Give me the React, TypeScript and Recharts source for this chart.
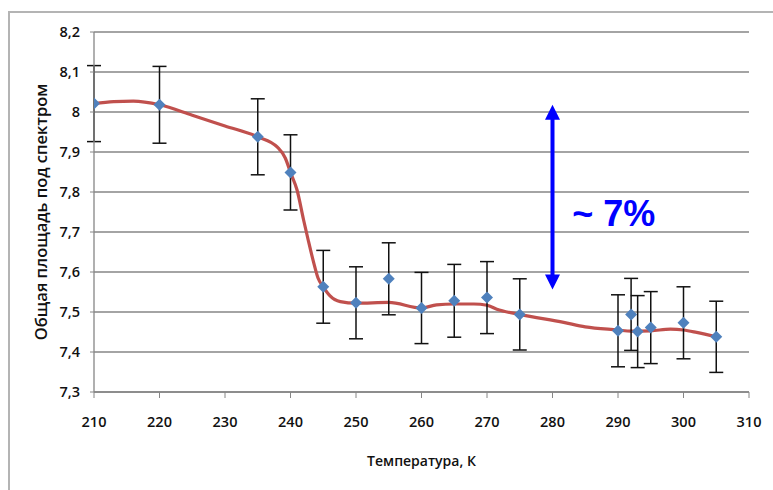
import {
  ComposedChart,
  Line,
  Scatter,
  ErrorBar,
  XAxis,
  YAxis,
  CartesianGrid,
  ReferenceLine,
  ReferenceDot,
} from "recharts";

// measured points (temperature, K / total area)
const TEMPS = [210, 220, 235, 240, 245, 250, 255, 260, 265, 270, 275, 290, 292, 293, 295, 300, 305];
const AREAS = [8.021, 8.018, 7.938, 7.849, 7.563, 7.523, 7.583, 7.51, 7.528, 7.536, 7.494, 7.453, 7.494, 7.451, 7.461, 7.473, 7.438];
const ERRORS = [0.095, 0.096, 0.095, 0.094, 0.091, 0.09, 0.09, 0.089, 0.091, 0.09, 0.089, 0.09, 0.09, 0.09, 0.09, 0.09, 0.089];

// smoothed red curve
const CURVE_X = [210, 213, 216, 220, 225, 230, 235, 238, 239.2, 240, 241, 242, 242.7, 243.5, 244.2, 245, 246, 247.6, 250, 255, 260, 262.3, 265, 268, 270, 271.5, 275, 281.7, 285, 290, 292, 295, 298, 300, 302, 305];
const CURVE_Y = [8.021, 8.026, 8.027, 8.018, 7.992, 7.965, 7.938, 7.912, 7.885, 7.849, 7.805, 7.73, 7.68, 7.626, 7.585, 7.563, 7.541, 7.526, 7.522, 7.524, 7.51, 7.518, 7.52, 7.52, 7.517, 7.507, 7.494, 7.474, 7.463, 7.455, 7.452, 7.453, 7.457, 7.455, 7.449, 7.438];

const X_TICKS = [210, 220, 230, 240, 250, 260, 270, 280, 290, 300, 310];
const Y_TICKS = [7.3, 7.4, 7.5, 7.6, 7.7, 7.8, 7.9, 8.0, 8.1, 8.2];

// the "~ 7%" span marker
const SPAN_X = 280;
const SPAN_TOP = 8.018;
const SPAN_BOTTOM = 7.556;
const SPAN_TEXT = "~ 7%";
const SPAN_TEXT_X = 283;
const SPAN_TEXT_Y = 7.716;

const Y_TITLE = "Общая площадь под спектром";
const X_TITLE = "Температура, К";

const points = TEMPS.map((x, i) => ({ x, y: AREAS[i], err: ERRORS[i] }));
const curve = CURVE_X.map((x, i) => ({ x, y: CURVE_Y[i] }));

const FONT = "'Open Sans', sans-serif";
const AXIS_GRAY = "#868686";
const BLUE = "#0000ff";

const Diamond = (props: any) => {
  const { cx, cy } = props;
  const r = 6;
  return (
    <polygon
      points={`${cx},${cy - r} ${cx + r},${cy} ${cx},${cy + r} ${cx - r},${cy}`}
      fill="#4f81bd"
    />
  );
};

const SpanArrow = (props: any) => {
  const { x1, y1, x2, y2 } = props;
  const top = Math.min(y1, y2);
  const bottom = Math.max(y1, y2);
  const x = x1 ?? x2;
  const h = 15;
  const w = 7.5;
  return (
    <g>
      <line x1={x} y1={top + h - 2} x2={x} y2={bottom - h + 2} stroke={BLUE} strokeWidth={4} />
      <polygon points={`${x},${top} ${x - w},${top + h} ${x + w},${top + h}`} fill={BLUE} />
      <polygon points={`${x},${bottom} ${x - w},${bottom - h} ${x + w},${bottom - h}`} fill={BLUE} />
    </g>
  );
};

const SpanText = (props: any) => (
  <text
    x={props.cx}
    y={props.cy}
    fill={BLUE}
    fontFamily="'Liberation Sans', Arial, sans-serif"
    fontWeight="bold"
    fontSize={36}
  >
    {SPAN_TEXT}
  </text>
);

const formatValue = (v: number) => String(v).replace(".", ",");

export default function App() {
  return (
    <div>
      <style>{`body{margin:0}`}</style>
      <div
        style={{
          position: "absolute",
          left: 8,
          top: 11,
          width: 765,
          height: 479,
          borderLeft: "2px solid #b4b4b4",
          borderTop: "2px solid #b4b4b4",
          boxSizing: "border-box",
          background: "#fff",
        }}
      >
        <ComposedChart
          width={763}
          height={477}
          margin={{ top: 19, right: 24, left: 24, bottom: 18 }}
        >
          <CartesianGrid vertical={false} stroke={AXIS_GRAY} strokeWidth={1.3} />

          <XAxis
            dataKey="x"
            type="number"
            domain={[210, 310]}
            ticks={X_TICKS}
            allowDataOverflow
            height={80}
            tick={{ fill: "#111", fontSize: 14.5, fontFamily: FONT, fontWeight: 600 }}
            tickLine={{ stroke: AXIS_GRAY }}
            axisLine={{ stroke: AXIS_GRAY, strokeWidth: 1.3 }}
            tickSize={6}
            tickMargin={19}
            label={{
              content: (p: any) => {
                const vb = p.viewBox;
                return (
                  <text
                    x={vb.x + vb.width / 2}
                    y={vb.y + 68}
                    textAnchor="middle"
                    dominantBaseline="central"
                    fill="#111"
                    fontFamily={FONT}
                    fontWeight={600}
                    fontSize={14}
                  >
                    {X_TITLE}
                  </text>
                );
              },
            }}
          />

          <YAxis
            type="number"
            domain={[7.3, 8.2]}
            ticks={Y_TICKS}
            allowDataOverflow
            width={60}
            tickFormatter={formatValue}
            tick={{ fill: "#111", fontSize: 14.5, fontFamily: FONT, fontWeight: 600 }}
            tickLine={{ stroke: AXIS_GRAY }}
            axisLine={{ stroke: AXIS_GRAY, strokeWidth: 1.3 }}
            tickSize={4}
            tickMargin={10}
            label={{
              content: (p: any) => {
                const vb = p.viewBox;
                const cx = vb.x + 6;
                const cy = vb.y + vb.height / 2;
                return (
                  <text
                    x={cx}
                    y={cy}
                    transform={`rotate(-90, ${cx}, ${cy})`}
                    textAnchor="middle"
                    dominantBaseline="central"
                    fill="#111"
                    fontFamily={FONT}
                    fontWeight={600}
                    fontSize={16.5}
                  >
                    {Y_TITLE}
                  </text>
                );
              },
            }}
          />

          <Line
            data={curve}
            dataKey="y"
            type="monotone"
            stroke="#c0504d"
            strokeWidth={3.2}
            dot={false}
            activeDot={false}
            isAnimationActive={false}
          />

          <Scatter data={points} dataKey="y" shape={<Diamond />} isAnimationActive={false}>
            <ErrorBar dataKey="err" direction="y" width={7} stroke="#111" strokeWidth={1.5} />
          </Scatter>

          <ReferenceLine
            segment={[
              { x: SPAN_X, y: SPAN_TOP },
              { x: SPAN_X, y: SPAN_BOTTOM },
            ]}
            shape={<SpanArrow />}
          />
          <ReferenceDot x={SPAN_TEXT_X} y={SPAN_TEXT_Y} shape={<SpanText />} />
        </ComposedChart>
      </div>
    </div>
  );
}
